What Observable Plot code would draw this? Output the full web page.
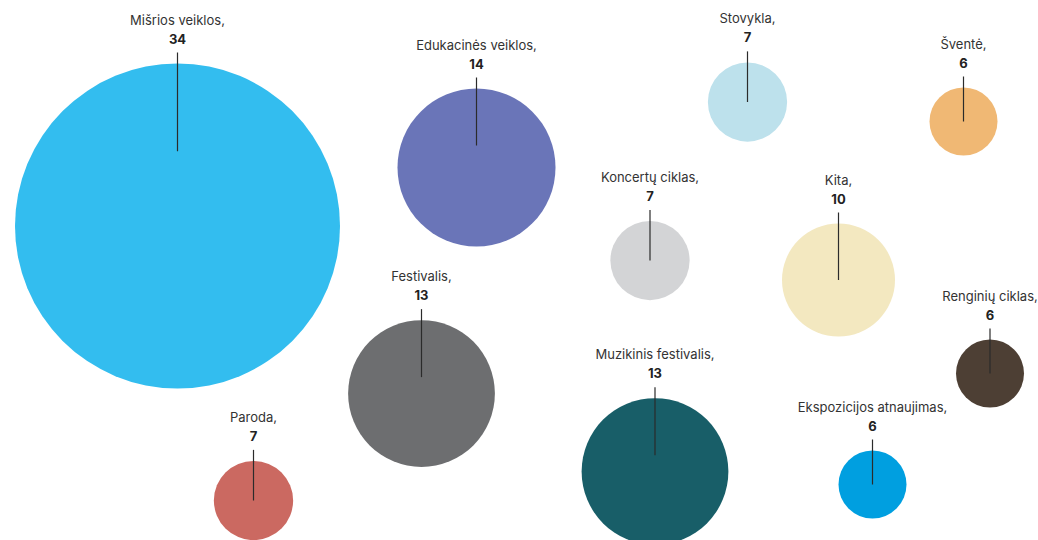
<!DOCTYPE html>
<html>
<head>
<meta charset="utf-8">
<script src="https://cdn.jsdelivr.net/npm/d3@7"></script>
<script src="https://cdn.jsdelivr.net/npm/@observablehq/plot@0.6"></script>
<style>
  html, body { margin: 0; padding: 0; background: #ffffff; }
  #chart { width: 1038px; height: 540px; }
  svg { display: block; }
</style>
</head>
<body>
<div id="chart"></div>
<script>
// ---- data ----
const categories = ["Mišrios veiklos", "Edukacinės veiklos", "Stovykla", "Šventė", "Koncertų ciklas", "Kita", "Festivalis", "Renginių ciklas", "Muzikinis festivalis", "Ekspozicijos atnaujimas", "Paroda"];
const values = [34, 14, 7, 6, 7, 10, 13, 6, 13, 6, 7];

// ---- layout (bubble centres, in layout units) & style ----
const posX = [177, 476, 747, 963, 649.5, 838, 421, 989.5, 654.5, 872, 253];
const posY = [225.5, 167, 101.5, 121, 260, 279.5, 393, 373, 471, 484, 500];
const colors = ["#33bdef", "#6a75b8", "#bde1ec", "#f0b874", "#d3d4d6", "#f3e8c0", "#6d6e70", "#4d3f34", "#185e68", "#009fe0", "#cb6961"];

const rDomain = [0, 6, 14, 34];
const rRange = [0, 34, 79, 162.5];
const rScale = d3.scaleLinear().domain(rDomain).range(rRange);

const data = categories.map((c, i) => {
  const r = rScale(values[i]);
  const top = posY[i] - r;
  const inner = r > 100 ? r * 0.54 : Math.min(r, 57);
  return {
    category: c,
    value: values[i],
    x: posX[i],
    y: posY[i],
    color: colors[i],
    nameY: top - 39,
    valueY: top - 20,
    lineStart: top - 11,
    lineEnd: top + inner
  };
});

const font = "Inter, 'Noto Sans', sans-serif";

const plot = Plot.plot({
  width: 1038,
  height: 540,
  margin: 0,
  style: { fontFamily: font, background: "#ffffff" },
  x: { domain: [0, 1038], range: [0, 1038], axis: null },
  y: { domain: [0, 540], range: [0, 540], axis: null },
  r: { type: "linear", domain: rDomain, range: rRange },
  color: { type: "identity" },
  marks: [
    Plot.dot(data, { x: "x", y: "y", r: "value", fill: "color", stroke: "none", fillOpacity: 1, sort: null }),
    Plot.link(data, { x1: "x", x2: "x", y1: "lineStart", y2: "lineEnd", stroke: "#2b2b2b", strokeWidth: 1.2 }),
    Plot.text(data, { x: "x", y: "nameY", text: d => d.category + ",", lineAnchor: "bottom", fontSize: 13, fill: "#333333", fontFamily: font }),
    Plot.text(data, { x: "x", y: "valueY", text: d => String(d.value), lineAnchor: "bottom", fontSize: 13, fontWeight: "bold", fill: "#222222", fontFamily: font })
  ]
});

document.getElementById("chart").appendChild(plot);
</script>
</body>
</html>
